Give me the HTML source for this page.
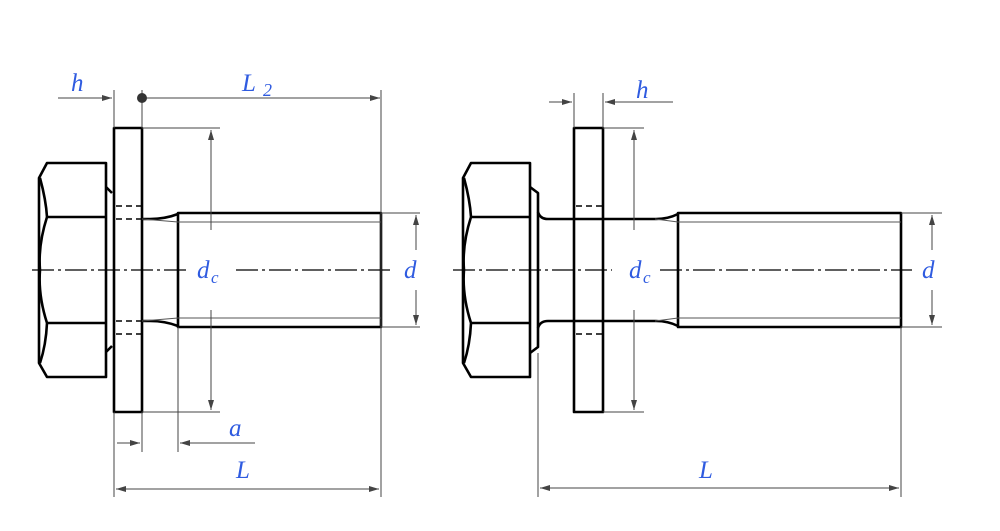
<!DOCTYPE html>
<html><head><meta charset="utf-8"><style>
html,body{margin:0;padding:0;background:#fff;}
svg{display:block}
text{font-family:"Liberation Serif",serif;font-style:italic;fill:#2f5be0;font-size:25px}
</style></head><body>
<svg width="1000" height="531" viewBox="0 0 1000 531" xmlns="http://www.w3.org/2000/svg">
<defs>
<marker id="ar" viewBox="0 0 10 6" refX="10" refY="3" markerWidth="10" markerHeight="6" orient="auto-start-reverse" markerUnits="userSpaceOnUse"><path d="M0,0 L10,3 L0,6 z" fill="#444"/></marker>
</defs>
<g fill="none" stroke="#000" stroke-width="2.6" stroke-linejoin="round">
<path d="M106,163 H47 L39,178 V363 L47,377 H106 Z"/>
<path d="M40,178 Q46,200 47,217 H106 M47,217 Q38,245 40,270 Q38,295 47,323 H106 M47,323 Q46,345 40,363"/>
<path d="M106,187 L112,193 M106,352 L112,346"/>
<rect x="114" y="128" width="28" height="284"/>
<path d="M142,219 H150 Q165,219 178,214 M142,321 H150 Q165,321 178,326"/>
<rect x="178" y="213" width="203" height="114"/>
<path d="M530,163 H471 L463,178 V363 L471,377 H530 Z"/>
<path d="M464,178 Q470,200 471,217 H530 M471,217 Q462,245 464,270 Q462,295 471,323 H530 M471,323 Q470,345 464,363"/>
<path d="M530,187 L538,193 V347 L530,353"/>
<path d="M538,212 Q540,219 548,219 H656 Q668,219 678,214 M538,328 Q540,321 548,321 H656 Q668,321 678,326"/>
<rect x="574" y="128" width="29" height="284"/>
<rect x="678" y="213" width="223" height="114"/>
</g>
<g fill="none" stroke="#000" stroke-width="1.6" stroke-dasharray="6,4">
<path d="M116,206 H142 M116,219 H142 M116,321 H142 M116,334 H142"/>
<path d="M576,206 H603 M576,219 H603 M576,321 H603 M576,334 H603"/>
</g>
<g fill="none" stroke="#555" stroke-width="1">
<path d="M142,219 L178,222 H381 M142,321 L178,318 H381"/>
<path d="M655,219 L678,222 H901 M655,321 L678,318 H901"/>
</g>
<g fill="none" stroke="#000" stroke-width="1.3" stroke-dasharray="22,4,3,4">
<path d="M32,270 H188 M236,270 H392"/>
<path d="M453,270 H612 M660,270 H912"/>
</g>
<g fill="none" stroke="#444" stroke-width="1">
<path d="M114,90 V128 M142,90 V128 M381,90 V497 M114,412 V497 M142,412 V452 M178,327 V452"/>
<path d="M58,98 H112" marker-end="url(#ar)"/>
<path d="M144,98 H380" marker-end="url(#ar)"/>
<path d="M142,128 H220 M142,412 H220"/>
<path d="M211,230 V130" marker-end="url(#ar)"/>
<path d="M211,310 V410" marker-end="url(#ar)"/>
<path d="M381,213 H420 M381,327 H420"/>
<path d="M416,250 V215" marker-end="url(#ar)"/>
<path d="M416,290 V325" marker-end="url(#ar)"/>
<path d="M117,443 H140" marker-end="url(#ar)"/>
<path d="M255,443 H180" marker-end="url(#ar)"/>
<path d="M116,489 H379" marker-start="url(#ar)" marker-end="url(#ar)"/>
<path d="M574,93 V128 M603,93 V128"/>
<path d="M549,102 H572" marker-end="url(#ar)"/>
<path d="M673,102 H605" marker-end="url(#ar)"/>
<path d="M603,128 H644 M603,412 H644"/>
<path d="M634,230 V130" marker-end="url(#ar)"/>
<path d="M634,310 V410" marker-end="url(#ar)"/>
<path d="M901,213 H942 M901,327 H942"/>
<path d="M932,250 V215" marker-end="url(#ar)"/>
<path d="M932,290 V325" marker-end="url(#ar)"/>
<path d="M538,353 V497 M901,327 V497"/>
<path d="M540,488 H899" marker-start="url(#ar)" marker-end="url(#ar)"/>
</g>
<circle cx="142" cy="98" r="5" fill="#333"/>
<text x="71" y="91">h</text>
<text x="242" y="91">L</text><text x="263" y="96" style="font-size:18px">2</text>
<text x="197" y="278">d</text><text x="211" y="283" style="font-size:17px">c</text>
<text x="404" y="278">d</text>
<text x="229" y="436">a</text>
<text x="236" y="478">L</text>
<text x="636" y="98">h</text>
<text x="629" y="278">d</text><text x="643" y="283" style="font-size:17px">c</text>
<text x="922" y="278">d</text>
<text x="699" y="478">L</text>
</svg>
</body></html>
